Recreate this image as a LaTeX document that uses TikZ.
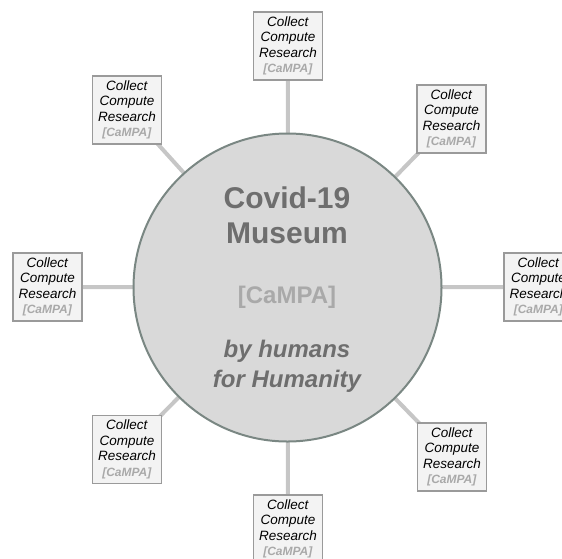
\documentclass[tikz,border=0pt]{standalone}
\usepackage{fontspec}
\setmainfont{Liberation Sans}
\usepackage{xcolor}
\usetikzlibrary{backgrounds}

\definecolor{hubfill}{HTML}{D9D9D9}
\definecolor{hubedge}{HTML}{7A8783}
\definecolor{titlegray}{HTML}{6E6E6E}
\definecolor{campagray}{HTML}{A9A9A9}
\definecolor{cardfill}{HTML}{F3F3F3}
\definecolor{cardedge}{HTML}{9A9A9A}
\definecolor{linkgray}{HTML}{C6C6C6}

\newcommand{\cardtext}{\textit{Collect}\\ \textit{Compute}\\ \textit{Research}\\
  \textcolor{campagray}{\fontsize{12}{15.5}\selectfont\textbf{\textit{[CaMPA]}}}}

\begin{document}
\begin{tikzpicture}[x=1pt, y=-1pt,
    card/.style={draw=cardedge, line width=1.2pt, fill=cardfill, rectangle,
      minimum width=69pt, minimum height=68pt, inner sep=1pt, align=center,
      font=\fontsize{13.5}{15.5}\selectfont},
    link/.style={draw=linkgray, line width=4pt}]
    \useasboundingbox (0,0) rectangle (562,558);
    \clip (0,0) rectangle (562,558);

    % Hub
    \node[circle, draw=hubedge, line width=2pt, fill=hubfill, minimum size=308pt,
      inner sep=0pt] (hub) at (287.5,287.5) {};

    % Hub texts
    \node[anchor=base, text=titlegray, font=\fontsize{30}{36}\bfseries] (title1) at (287,208) {Covid-19};
    \node[anchor=base, text=titlegray, font=\fontsize{30}{36}\bfseries] (title2) at (287,243) {Museum};
    \node[anchor=base, text=campagray, font=\fontsize{24}{30}\bfseries] (campa) at (287,303) {[CaMPA]};
    \node[anchor=base, text=titlegray, font=\fontsize{24}{30}\bfseries\itshape] (motto1) at (287,357) {by humans};
    \node[anchor=base, text=titlegray, font=\fontsize{24}{30}\bfseries\itshape] (motto2) at (287,387) {for Humanity};

    % Cards round the hub
    \node[card] (cT)  at (288,46)    {\cardtext};
    \node[card] (cTR) at (451.5,119) {\cardtext};
    \node[card] (cR)  at (538.5,287) {\cardtext};
    \node[card] (cBR) at (452,457)   {\cardtext};
    \node[card] (cB)  at (288,529)   {\cardtext};
    \node[card] (cBL) at (127,449.5) {\cardtext};
    \node[card] (cL)  at (47.5,287)  {\cardtext};
    \node[card] (cTL) at (127,110)   {\cardtext};

    % Spokes
    \begin{scope}[on background layer]
        \draw[link] (hub.center) -- (cT.center);
        \draw[link] (hub.center) -- (cTR.center);
        \draw[link] (hub.center) -- (cR.center);
        \draw[link] (hub.center) -- (cBR.center);
        \draw[link] (hub.center) -- (cB.center);
        \draw[link] (hub.center) -- (cBL.center);
        \draw[link] (hub.center) -- (cL.center);
        \draw[link] (hub.center) -- (cTL.center);
    \end{scope}
\end{tikzpicture}
\end{document}
